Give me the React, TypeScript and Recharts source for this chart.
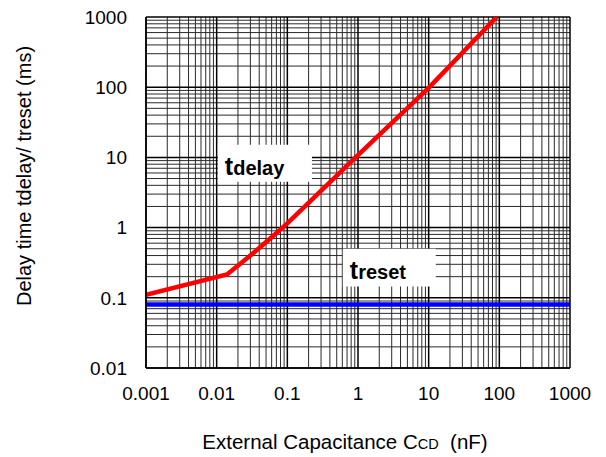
import React from "react";
import {
  LineChart,
  Line,
  XAxis,
  YAxis,
  ReferenceLine,
  ReferenceArea,
} from "recharts";

const FONT = "'Liberation Sans', Arial, sans-serif";

// decades on each axis and their printed labels
const xTicks = [0.001, 0.01, 0.1, 1, 10, 100, 1000];
const xTickLabels = ["0.001", "0.01", "0.1", "1", "10", "100", "1000"];
const yTicks = [0.01, 0.1, 1, 10, 100, 1000];
const yTickLabels = ["0.01", "0.1", "1", "10", "100", "1000"];
const minorSteps = [2, 3, 4, 5, 6, 7, 8, 9];

// (nF -> ms)
const tdelay = [
  { x: 0.001, y: 0.11 },
  { x: 0.014, y: 0.215 },
  { x: 0.03, y: 0.4 },
  { x: 0.06, y: 0.73 },
  { x: 0.1, y: 1.15 },
  { x: 1, y: 10.8 },
  { x: 10, y: 98 },
  { x: 92, y: 1000 },
];
const treset = [
  { x: 0.001, y: 0.08 },
  { x: 1000, y: 0.08 },
];

const minorOf = (decades: number[]) =>
  decades.slice(0, -1).flatMap((d) => minorSteps.map((m) => +(d * m).toPrecision(3)));

const xMinor = minorOf(xTicks);
const yMinor = minorOf(yTicks);

function XTick({ x, y, index }: any) {
  return (
    <text x={x} y={y} dy="0.71em" textAnchor="middle" fontSize={19} fontFamily={FONT} fill="#000">
      {xTickLabels[index]}
    </text>
  );
}

function YTick({ x, y, index }: any) {
  return (
    <text x={x} y={y} dy="0.355em" textAnchor="end" fontSize={19} fontFamily={FONT} fill="#000">
      {yTickLabels[index]}
    </text>
  );
}

function BoxLabel({ viewBox, text }: any) {
  if (!viewBox) return null;
  return (
    <text
      x={viewBox.x + 7}
      y={viewBox.y + viewBox.height - 7}
      fontFamily={FONT}
      fontWeight="bold"
      fill="#000"
    >
      <tspan fontSize={25}>t</tspan>
      <tspan fontSize={20}>{text}</tspan>
    </text>
  );
}

export default function App() {
  return (
    <LineChart
      width={598}
      height={449}
      margin={{ top: 9, right: 36, bottom: 0, left: 0 }}
      style={{ fontFamily: FONT }}
    >
      <XAxis
        type="number"
        dataKey="x"
        scale="log"
        domain={[0.001, 1000]}
        ticks={xTicks}
        allowDataOverflow
        height={89}
        tickSize={0}
        tickMargin={19}
        tick={<XTick />}
        axisLine={{ stroke: "#000", strokeWidth: 1.5 }}
        label={{
          content: () => (
            <text
              x={337}
              y={441}
              textAnchor="middle"
              fontSize={20.5}
              fontFamily={FONT}
              fill="#000"
              style={{ whiteSpace: "pre" }}
            >
              External Capacitance C<tspan fontSize={14.5}>CD</tspan>
              {"  (nF)"}
            </text>
          ),
        }}
      />
      <YAxis
        type="number"
        dataKey="y"
        scale="log"
        domain={[0.01, 1000]}
        ticks={yTicks}
        allowDataOverflow
        width={138}
        tickSize={0}
        tickMargin={19}
        tick={<YTick />}
        axisLine={{ stroke: "#000", strokeWidth: 1.5 }}
        label={{
          content: () => (
            <text
              x={16}
              y={168}
              transform="rotate(-90 16 168)"
              dy="0.355em"
              textAnchor="middle"
              fontSize={20}
              fontFamily={FONT}
              fill="#000"
            >
              Delay time tdelay/ treset (ms)
            </text>
          ),
        }}
      />

      {xMinor.map((v) => (
        <ReferenceLine key={"xm" + v} x={v} stroke="#2a2a2a" strokeWidth={1} zIndex={10} />
      ))}
      {yMinor.map((v) => (
        <ReferenceLine key={"ym" + v} y={v} stroke="#2a2a2a" strokeWidth={1} zIndex={10} />
      ))}
      {xTicks.map((v) => (
        <ReferenceLine key={"xM" + v} x={v} stroke="#000" strokeWidth={1.5} zIndex={10} />
      ))}
      {yTicks.map((v) => (
        <ReferenceLine key={"yM" + v} y={v} stroke="#000" strokeWidth={1.5} zIndex={10} />
      ))}

      <ReferenceArea
        x1={0.0104}
        x2={0.223}
        y1={4.5}
        y2={15.2}
        fill="#fff"
        fillOpacity={1}
        stroke="none"
        zIndex={20}
        label={<BoxLabel text="delay" />}
      />
      <ReferenceArea
        x1={0.61}
        x2={12.6}
        y1={0.145}
        y2={0.5}
        fill="#fff"
        fillOpacity={1}
        stroke="none"
        zIndex={20}
        label={<BoxLabel text="reset" />}
      />

      <Line
        data={treset}
        dataKey="y"
        type="linear"
        stroke="#0000ff"
        strokeWidth={4.5}
        dot={false}
        isAnimationActive={false}
      />
      <Line
        data={tdelay}
        dataKey="y"
        type="linear"
        stroke="#ff0000"
        strokeWidth={4.5}
        dot={false}
        isAnimationActive={false}
      />
    </LineChart>
  );
}
